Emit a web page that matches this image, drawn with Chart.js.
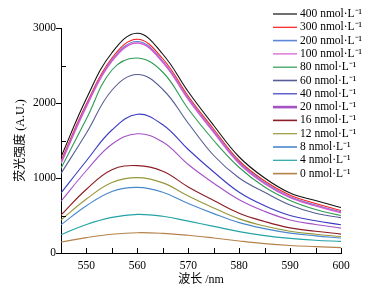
<!DOCTYPE html>
<html>
<head>
<meta charset="utf-8">
<script src="https://cdn.jsdelivr.net/npm/chart.js@4/dist/chart.umd.min.js"></script>
<style>
  html, body { margin: 0; padding: 0; background: #fff; }
  canvas { display: block; }
</style>
</head>
<body>
<canvas id="spectra" width="372" height="302"></canvas>
<script>
// wavelength (nm) and fluorescence intensity
const wavelengths = [545, 550, 555, 560, 565, 570, 575, 580, 585, 590, 595, 600];
const concentrations = ['400', '300', '200', '100', '80', '60', '40', '20', '16', '12', '8', '4', '0'];

const s400 = [1280, 2060, 2670, 2930, 2650, 2150, 1700, 1280, 1000, 800, 700, 606];
const s300 = [1230, 1990, 2600, 2850, 2590, 2090, 1650, 1230, 960, 770, 660, 566];
const s200 = [1210, 1970, 2575, 2820, 2560, 2065, 1625, 1210, 940, 750, 640, 548];
const s100 = [1195, 1955, 2560, 2800, 2545, 2050, 1610, 1195, 925, 740, 630, 538];
const s80 = [1130, 1790, 2440, 2600, 2410, 1920, 1500, 1140, 880, 700, 580, 500];
const s60 = [1060, 1600, 2170, 2380, 2180, 1730, 1300, 1000, 810, 640, 530, 472];
const s40 = [800, 1230, 1640, 1850, 1710, 1380, 1080, 810, 630, 500, 430, 376];
const s20 = [690, 1100, 1450, 1590, 1480, 1180, 930, 710, 555, 440, 380, 332];
const s16 = [505, 850, 1110, 1165, 1090, 880, 700, 530, 420, 335, 290, 252];
const s12 = [440, 720, 940, 1005, 935, 760, 600, 455, 360, 290, 250, 220];
const s8 = [376, 630, 820, 875, 810, 660, 525, 405, 325, 265, 228, 199];
const s4 = [243, 380, 475, 515, 490, 425, 355, 285, 232, 195, 170, 155];
const s0 = [146, 205, 250, 271, 262, 236, 200, 160, 125, 100, 85, 72];

const yTickValues = [0, 1000, 2000, 3000];
const yMinorTicks = [500, 1500, 2500];
const xTickMarks = [545, 550, 555, 560, 565, 570, 575, 580, 585, 590, 595, 600];

const series = [s400, s300, s200, s100, s80, s60, s40, s20, s16, s12, s8, s4, s0];
const colors = ['#111111', '#ff1a1a', '#5b87d6', '#d45ad2', '#2f9a55', '#575c95', '#3b3bc2',
  '#a452c6', '#8e1c24', '#97973a', '#4a88cc', '#23a3a6', '#b5824a'];
const widths = [1.1, 1.1, 1.1, 1.6, 1.1, 1.1, 1.1, 1.1, 1.1, 1.1, 1.1, 1.1, 1.1];
const legendWidths = [1.2, 1.2, 1.6, 1.2, 1.2, 1.6, 1.2, 2.6, 1.6, 1.2, 1.6, 1.2, 1.6];

const serif = "'Liberation Serif', 'Noto Sans CJK SC', serif";

const decorations = {
  id: 'decorations',
  afterDraw(chart) {
    const { ctx, chartArea, scales: { x, y } } = chart;
    ctx.save();
    ctx.strokeStyle = '#000';
    ctx.lineWidth = 1;
    ctx.beginPath();
    // inward tick marks on the x axis
    xTickMarks.forEach(v => {
      const px = Math.round(x.getPixelForValue(v)) + 0.5;
      ctx.moveTo(px, chartArea.bottom);
      ctx.lineTo(px, chartArea.bottom - 5);
    });
    // inward minor ticks on the y axis
    yMinorTicks.forEach(v => {
      const py = Math.round(y.getPixelForValue(v)) + 0.5;
      ctx.moveTo(chartArea.left, py);
      ctx.lineTo(chartArea.left + 5, py);
    });
    ctx.stroke();

    // legend, highest concentration first
    ctx.font = '11.5px ' + serif;
    ctx.textBaseline = 'middle';
    ctx.fillStyle = '#000';
    concentrations.forEach((c, i) => {
      const ly = 14 + i * 13.3;
      ctx.strokeStyle = colors[i];
      ctx.lineWidth = legendWidths[i];
      ctx.beginPath();
      ctx.moveTo(273, ly);
      ctx.lineTo(297, ly);
      ctx.stroke();
      ctx.fillText(c + ' nmol\u00b7L\u207b\u00b9', 300, ly);
    });
    ctx.restore();
  }
};

new Chart(document.getElementById('spectra'), {
  type: 'line',
  data: {
    // drawn lowest first so the 400 nmol curve sits on top
    datasets: series.map((s, i) => ({
      label: concentrations[i] + ' nmol\u00b7L\u207b\u00b9',
      data: s.map((v, j) => ({ x: wavelengths[j], y: v })),
      borderColor: colors[i],
      borderWidth: widths[i],
      fill: false,
      pointRadius: 0,
      tension: 0.4,
    })).reverse(),
  },
  options: {
    responsive: false,
    animation: false,
    layout: { padding: { top: 28, right: 31, left: 0, bottom: 0 } },
    plugins: {
      legend: { display: false },
      tooltip: { enabled: false },
    },
    scales: {
      x: {
        type: 'linear',
        min: 545,
        max: 600,
        afterFit: s => { s.height = 49; },
        grid: { display: false, drawTicks: false },
        border: { color: '#000', width: 1 },
        ticks: {
          stepSize: 10,
          includeBounds: false,
          padding: 6,
          maxRotation: 0,
          color: '#000',
          font: { family: serif, size: 11.5 },
          callback: v => String(v),
        },
        title: {
          display: true,
          text: '波长 /nm',
          color: '#000',
          font: { family: serif, size: 12 },
          padding: { top: 0, bottom: 15 },
        },
      },
      y: {
        min: 0,
        max: 3000,
        afterFit: s => { s.width = 61; },
        afterBuildTicks: s => { s.ticks = yTickValues.map(v => ({ value: v })); },
        grid: { drawOnChartArea: false, tickLength: 5, color: '#000' },
        border: { color: '#000', width: 1 },
        ticks: {
          padding: 0,
          color: '#000',
          font: { family: serif, size: 11.5 },
          callback: v => String(v),
        },
        title: {
          display: true,
          text: '荧光强度 (A.U.)',
          color: '#000',
          font: { family: serif, size: 12 },
          padding: { top: 14, bottom: 0 },
        },
      },
    },
  },
  plugins: [decorations],
});
</script>
</body>
</html>
